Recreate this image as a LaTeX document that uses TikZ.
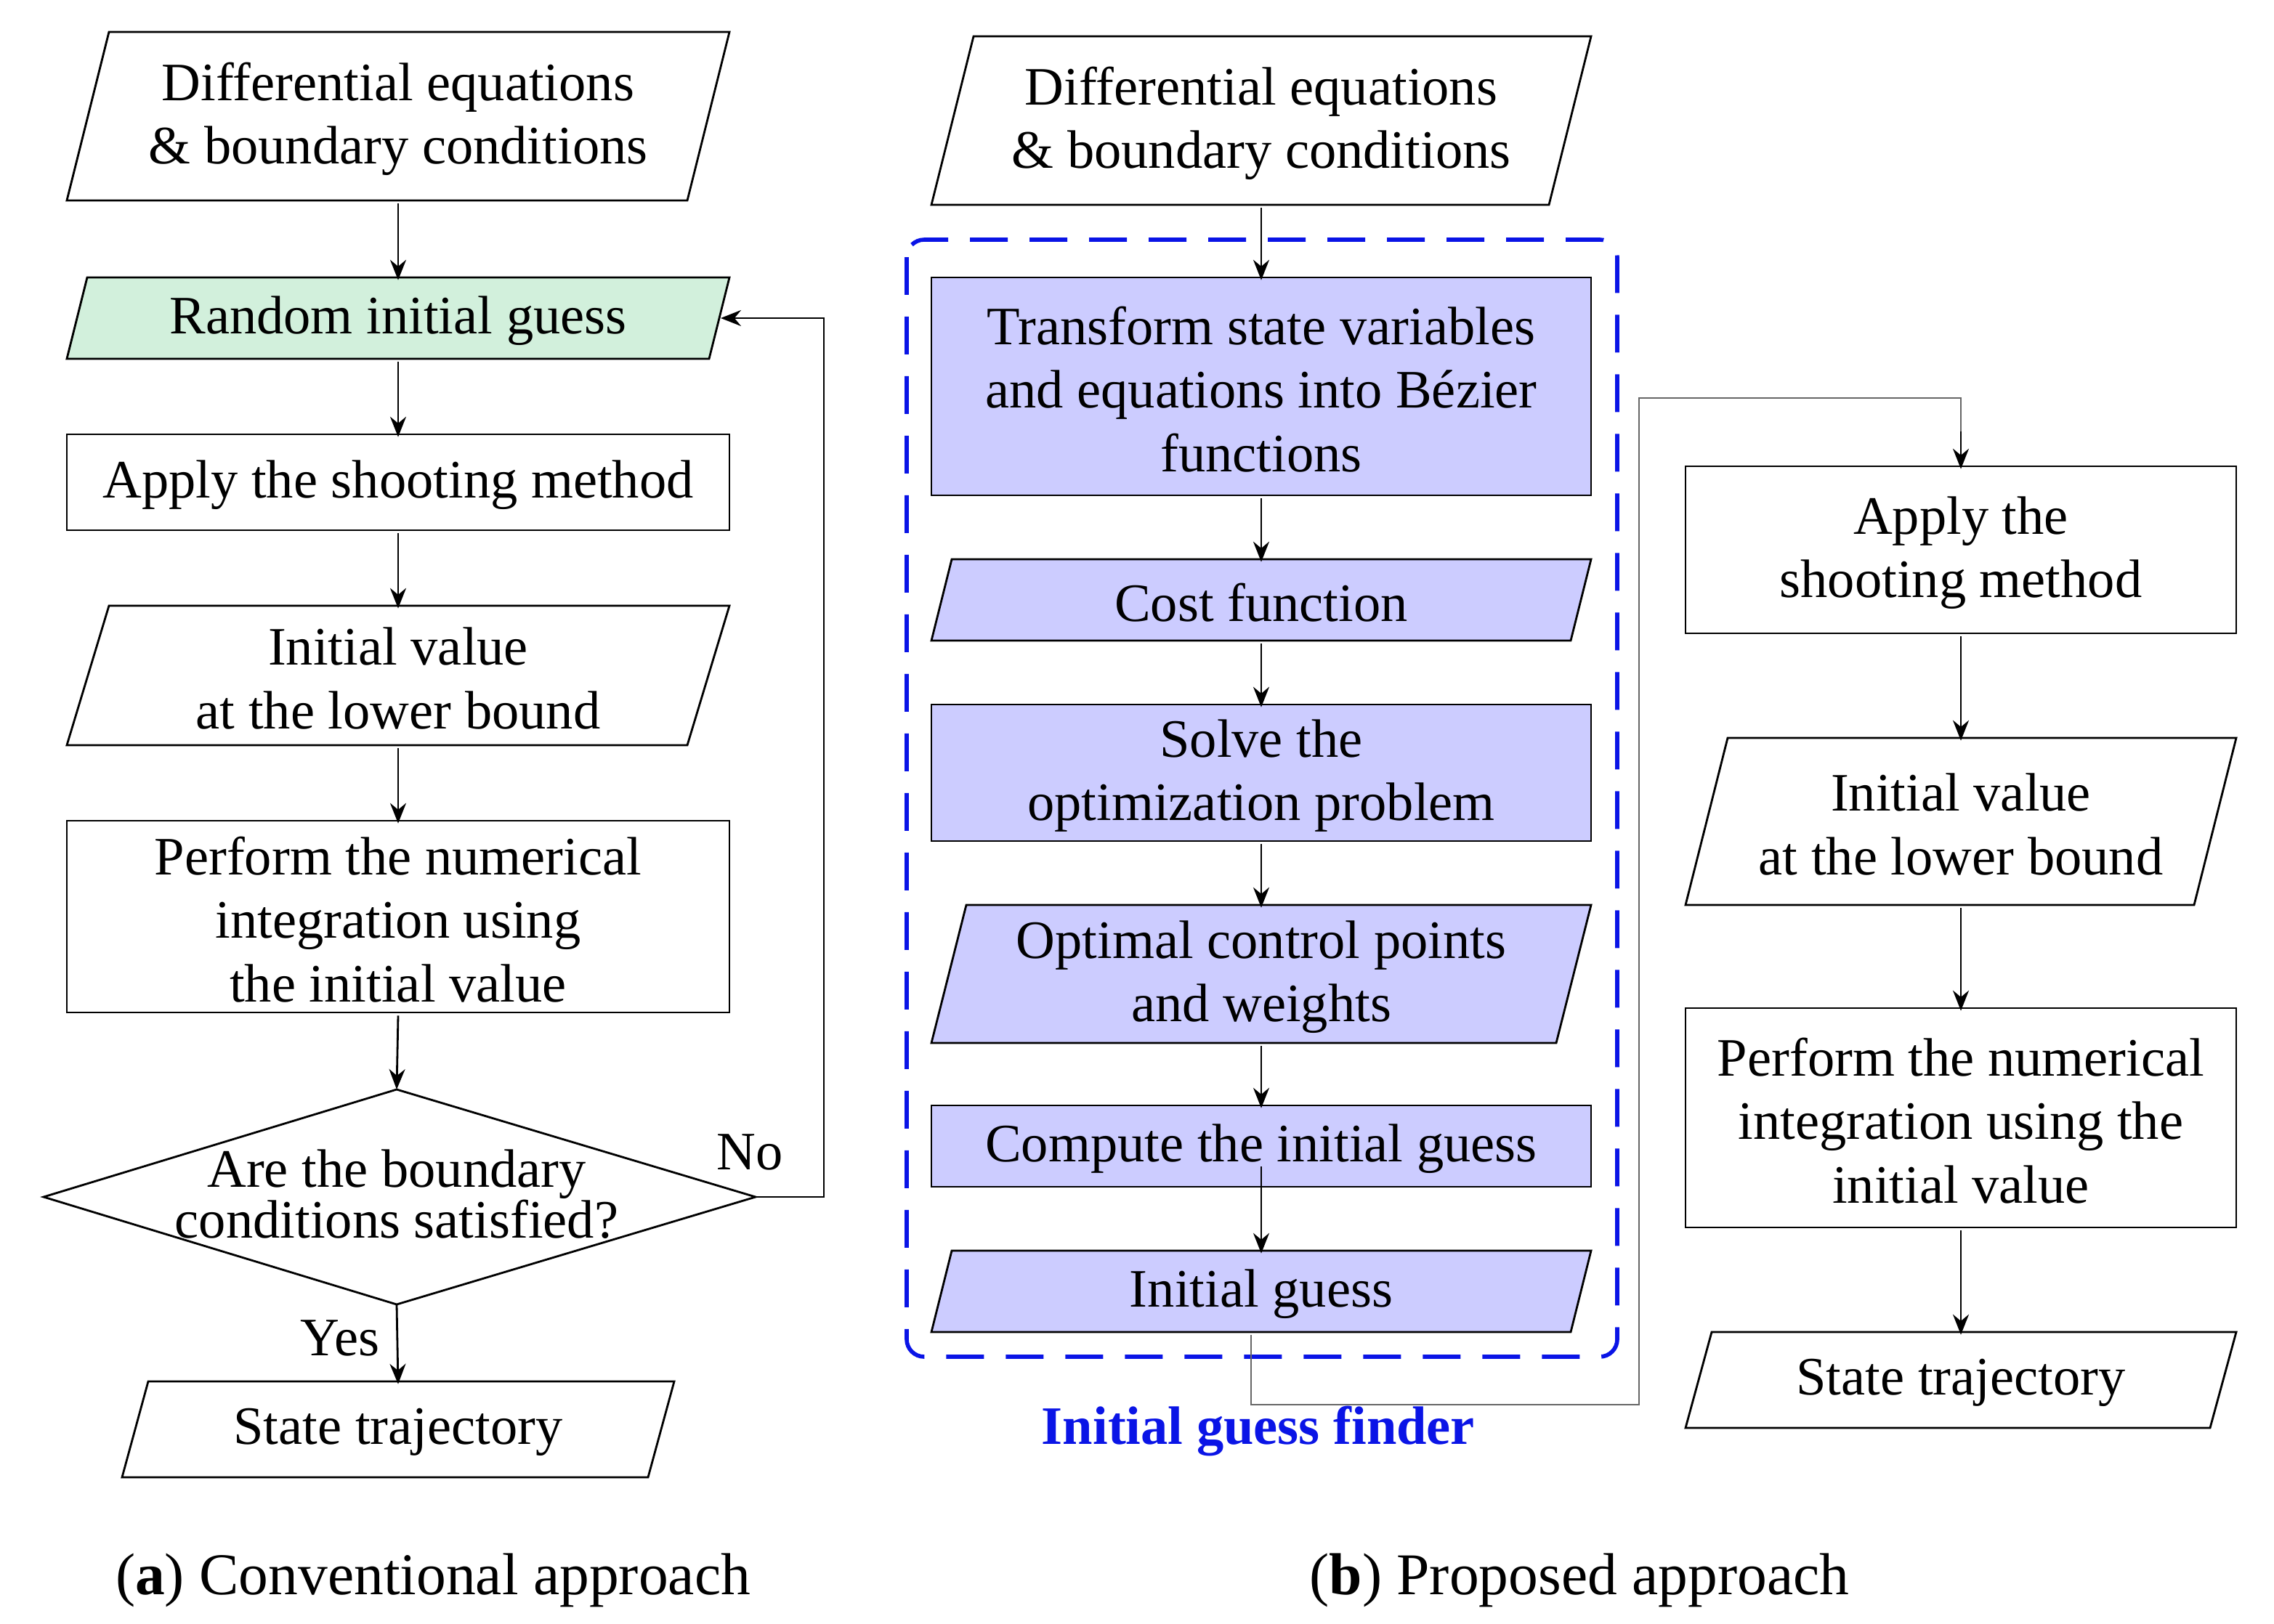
\documentclass[tikz,border=0pt]{standalone}
\usepackage{fontspec}
\setmainfont{Liberation Serif}
\usetikzlibrary{arrows.meta}
\definecolor{gfill}{HTML}{D2F0DC}
\definecolor{lav}{HTML}{CCCCFF}
\definecolor{fblue}{HTML}{0A14E6}
\newcommand\bx[8]{%
  \filldraw[fill=#7,line width=2pt] ({#2+#6},{#4}) -- ({#3},{#4}) -- ({#3-#6},{#5}) -- ({#2},{#5}) -- cycle;
  \node[draw=none,inner sep=0pt,align=center,minimum width={(#3-#2)*0.05cm},minimum height={(#5-#4)*0.05cm}] (#1) at ({(#2+#3)/2},{(#4+#5)/2+2}) {#8};}
\begin{document}
\begin{tikzpicture}[x=0.05cm,y=-0.05cm,font=\fontsize{53}{62}\selectfont,
  arr/.style={line width=2pt,-{Stealth[length=0.7cm,width=0.55cm]}}]
\useasboundingbox (0,0) rectangle (1565,1118);
% left column
\bx{l1}{46}{502}{22}{138}{29}{white}{Differential equations\\\& boundary conditions}
\bx{rg}{46}{502}{191}{247}{14}{gfill}{Random initial guess}
\bx{l3}{46}{502}{299}{365}{0}{white}{Apply the shooting method}
\bx{l4}{46}{502}{417}{513}{29}{white}{Initial value\\at the lower bound}
\bx{l5}{46}{502}{565}{697}{0}{white}{Perform the numerical\\integration using\\the initial value}
\filldraw[fill=white,line width=2pt] (30,824) -- (273,750) -- (520,824) -- (273,898) -- cycle;
\node[align=center,inner sep=0pt,font=\fontsize{53}{36}\selectfont] (d) at (273,822) {Are the boundary\\conditions satisfied?};
\coordinate (dE) at (520,824);
\coordinate (dS) at (273,898);
\coordinate (dN) at (273,750);
\bx{l7}{84}{464}{951}{1017}{18}{white}{State trajectory}
\coordinate (rgR) at (496,219);
\draw[arr] (l1.south) -- (rg.north);
\draw[arr] (rg.south) -- (l3.north);
\draw[arr] (l3.south) -- (l4.north);
\draw[arr] (l4.south) -- (l5.north);
\draw[arr] (l5.south) -- (dN);
\draw[arr] (dS) -- (l7.north);
\draw[arr] (dE) -- (567,824) |- (rgR);
\node at (516,793) {No};
\node at (234,921) {Yes};
% middle
\bx{m0}{641}{1095}{25}{141}{29}{white}{Differential equations\\\& boundary conditions}
\draw[fblue,line width=4pt,dash pattern=on 1.3cm off 0.75cm,rounded corners=0.6cm] (624,165) rectangle (1113,934);
\bx{m1}{641}{1095}{191}{341}{0}{lav}{Transform state variables\\and equations into Bézier\\functions}
\bx{m2}{641}{1095}{385}{441}{14}{lav}{Cost function}
\bx{m3}{641}{1095}{485}{579}{0}{lav}{Solve the\\optimization problem}
\bx{m4}{641}{1095}{623}{718}{24}{lav}{Optimal control points\\and weights}
\bx{m5}{641}{1095}{761}{817}{0}{lav}{Compute the initial guess}
\bx{m6}{641}{1095}{861}{917}{14}{lav}{Initial guess}
\draw[arr] (m0.south) -- (m1.north);
\draw[arr] (m1.south) -- (m2.north);
\draw[arr] (m2.south) -- (m3.north);
\draw[arr] (m3.south) -- (m4.north);
\draw[arr] (m4.south) -- (m5.north);
\draw[arr] ([yshift=-0.6cm]m5.center) -- (m6.north);
\node[fblue,font=\fontsize{53}{62}\selectfont\bfseries] (lab) at (866,985) {Initial guess finder};
% right
\bx{r1}{1160}{1539}{321}{436}{0}{white}{Apply the\\shooting method}
\bx{r2}{1160}{1539}{508}{623}{29}{white}{Initial value\\at the lower bound}
\bx{r3}{1160}{1539}{694}{845}{0}{white}{Perform the numerical\\integration using the\\initial value}
\bx{r4}{1160}{1539}{917}{983}{18}{white}{State trajectory}
\draw[line width=1.5pt,draw=gray!80!black] ([xshift=-0.35cm]m6.south) -- ++(0,48) -| (1128,274) -| ([yshift=1.2cm]r1.north);
\draw[arr] ([yshift=1.3cm]r1.north) -- (r1.north);
\draw[arr] (r1.south) -- (r2.north);
\draw[arr] (r2.south) -- (r3.north);
\draw[arr] (r3.south) -- (r4.north);
% captions
\node[font=\fontsize{58}{62}\selectfont] (ca) at (298,1088) {(\textbf{a}) Conventional approach};
\node[font=\fontsize{58}{62}\selectfont] (cb) at (1087,1088) {(\textbf{b}) Proposed approach};
\end{tikzpicture}
\end{document}
